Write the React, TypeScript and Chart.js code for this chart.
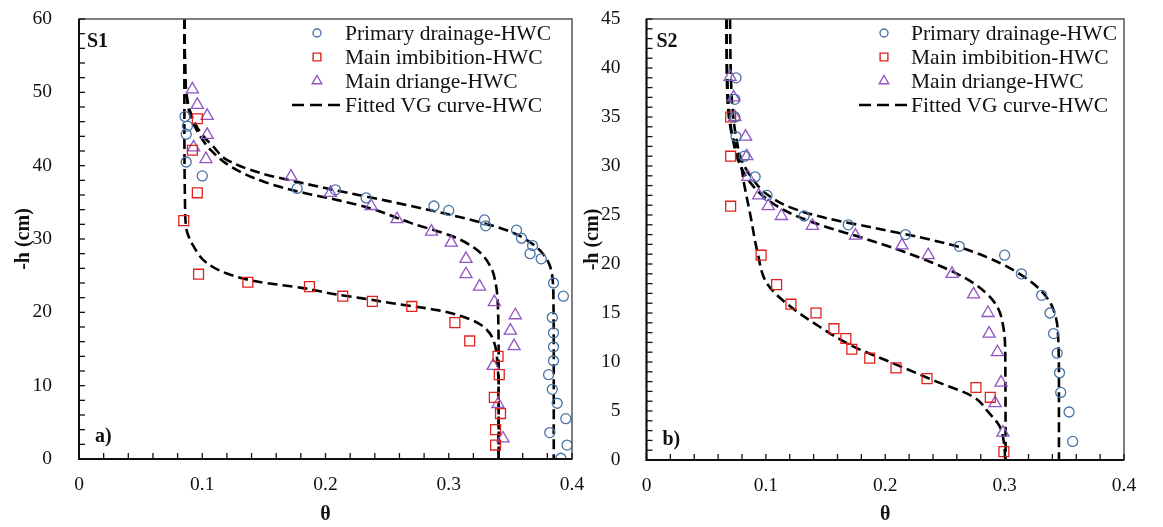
import React, { useEffect, useRef } from 'react';
import { Chart, registerables } from 'chart.js';
import { drawPoint } from 'chart.js/helpers';

Chart.register(...registerables);

type Pair = [number, number]; // [theta, h]

// ---------- Panel a (S1) ----------
const s1PrimaryDrainage: Pair[] = [
  [0.086, 46.7], [0.088, 45.4], [0.087, 44.3], [0.087, 40.5], [0.1, 38.6], [0.177, 36.9],
  [0.208, 36.7], [0.233, 35.6], [0.288, 34.5], [0.3, 33.9], [0.329, 32.6], [0.33, 31.8],
  [0.355, 31.2], [0.359, 30.1], [0.368, 29.1], [0.366, 28.0], [0.375, 27.3], [0.385, 24.0],
  [0.393, 22.2], [0.384, 19.3], [0.385, 17.2], [0.385, 15.3], [0.385, 13.4], [0.381, 11.5],
  [0.384, 9.5], [0.388, 7.6], [0.395, 5.5], [0.382, 3.6], [0.396, 1.9], [0.391, 0.1],
];
const s1MainImbibition: Pair[] = [
  [0.096, 46.4], [0.092, 42.1], [0.096, 36.3], [0.085, 32.5], [0.097, 25.2], [0.137, 24.1],
  [0.187, 23.5], [0.214, 22.2], [0.238, 21.5], [0.27, 20.8], [0.305, 18.6], [0.317, 16.1],
  [0.34, 14.0], [0.341, 11.5], [0.337, 8.4], [0.342, 6.2], [0.338, 4.0], [0.338, 1.9],
];
const s1MainDrainage: Pair[] = [
  [0.092, 50.4], [0.096, 48.3], [0.104, 46.8], [0.104, 44.2], [0.093, 42.5], [0.103, 40.9],
  [0.172, 38.5], [0.204, 36.3], [0.237, 34.5], [0.258, 32.7], [0.286, 31.0], [0.302, 29.5],
  [0.314, 27.3], [0.314, 25.2], [0.325, 23.5], [0.337, 21.4], [0.354, 19.6], [0.35, 17.5],
  [0.353, 15.4], [0.336, 12.7], [0.34, 7.5], [0.344, 2.8],
];
const s1FitPrimaryDrainage: Pair[] = [
  [0.0855, 60], [0.086, 54], [0.087, 50], [0.09, 47.5], [0.095, 45.5], [0.1, 44.2], [0.109, 42.6],
  [0.12, 40.8], [0.147, 39.0], [0.182, 37.6], [0.218, 36.3], [0.25, 35.2], [0.283, 34.0],
  [0.323, 32.4], [0.35, 31.0], [0.369, 29.2], [0.38, 27.1], [0.384, 24.9], [0.385, 21.0],
  [0.3852, 12], [0.3852, 0],
];
const s1FitMainDrainage: Pair[] = [
  [0.0855, 60], [0.086, 54], [0.087, 50], [0.09, 47], [0.095, 45], [0.1, 43.6], [0.1065, 42.2],
  [0.123, 39.9], [0.15, 37.8], [0.182, 36.3], [0.21, 35.3], [0.236, 34.2], [0.269, 32.2],
  [0.304, 30.3], [0.323, 28.5], [0.334, 26.2], [0.338, 24.0], [0.34, 20.3], [0.3405, 12],
  [0.3405, 0],
];
const s1FitMainImbibition: Pair[] = [
  [0.0855, 60], [0.0855, 45], [0.086, 35], [0.087, 31.5], [0.093, 29.0], [0.104, 26.7],
  [0.12, 25.3], [0.1445, 24.2], [0.182, 23.3], [0.21, 22.4], [0.23, 21.9], [0.2555, 21.2],
  [0.291, 20.3], [0.318, 19.0], [0.331, 17.6], [0.337, 15.8], [0.3395, 13], [0.3405, 8],
  [0.3405, 0],
];

// ---------- Panel b (S2) ----------
const s2PrimaryDrainage: Pair[] = [
  [0.075, 39], [0.074, 36.8], [0.074, 35], [0.075, 33], [0.082, 31], [0.091, 28.9], [0.101, 27],
  [0.132, 24.9], [0.169, 24], [0.217, 23], [0.262, 21.8], [0.3, 20.9], [0.314, 19], [0.331, 16.8],
  [0.338, 15], [0.341, 12.9], [0.344, 10.9], [0.346, 8.9], [0.347, 6.9], [0.354, 4.9], [0.357, 1.9],
];
const s2MainImbibition: Pair[] = [
  [0.0705, 35], [0.0705, 31], [0.0705, 25.9], [0.096, 20.9], [0.109, 17.9], [0.121, 15.9],
  [0.142, 15], [0.157, 13.4], [0.167, 12.4], [0.172, 11.3], [0.187, 10.4], [0.209, 9.4],
  [0.235, 8.3], [0.276, 7.4], [0.288, 6.4], [0.2994, 0.85],
];
const s2MainDrainage: Pair[] = [
  [0.07, 39.1], [0.073, 37], [0.074, 35], [0.083, 33], [0.084, 31], [0.085, 28.9], [0.094, 27],
  [0.102, 25.9], [0.113, 24.9], [0.139, 23.9], [0.175, 22.9], [0.214, 21.9], [0.236, 20.9],
  [0.256, 19], [0.274, 16.9], [0.286, 15], [0.287, 12.9], [0.294, 11], [0.297, 7.9], [0.292, 5.8],
  [0.2986, 2.8],
];
const s2FitPrimaryDrainage: Pair[] = [
  [0.07, 45], [0.0705, 40], [0.072, 36], [0.075, 33], [0.08, 30.5], [0.09, 28.5], [0.1, 27.2],
  [0.12, 25.8], [0.15, 24.7], [0.19, 23.7], [0.23, 22.7], [0.26, 21.8], [0.285, 20.7],
  [0.307, 19.4], [0.325, 17.9], [0.337, 16.3], [0.343, 14.5], [0.345, 12], [0.3455, 8], [0.3455, 0],
];
const s2FitMainDrainage: Pair[] = [
  [0.067, 45], [0.0675, 40], [0.069, 36], [0.072, 33], [0.077, 30.5], [0.087, 28.3], [0.1, 26.7],
  [0.12, 25.2], [0.15, 23.8], [0.18, 22.7], [0.21, 21.5], [0.24, 20.1], [0.265, 18.7],
  [0.283, 17.2], [0.294, 15.6], [0.299, 13.5], [0.3005, 11], [0.3008, 0],
];
const s2FitMainImbibition: Pair[] = [
  [0.067, 45], [0.0675, 38], [0.069, 35], [0.072, 33], [0.0777, 31], [0.082, 28], [0.087, 25],
  [0.093, 21.2], [0.101, 18], [0.117, 16], [0.145, 13.6], [0.173, 11.6], [0.206, 9.9],
  [0.243, 8.0], [0.273, 6.5], [0.287, 4.8], [0.296, 3.4], [0.2995, 1.7], [0.3005, 0],
];

// ---------- Labels / ticks ----------
const seriesLabels = ['Primary drainage-HWC', 'Main imbibition-HWC', 'Main driange-HWC', 'Fitted VG curve-HWC'];
const thetaTickLabels = [0, 0.1, 0.2, 0.3, 0.4];
const hTickLabelsS1 = [0, 10, 20, 30, 40, 50, 60];
const hTickLabelsS2 = [0, 5, 10, 15, 20, 25, 30, 35, 40, 45];

const SERIF = "'Liberation Serif', 'Times New Roman', serif";
const C_CIRCLE = '#4a72a6';
const C_SQUARE = '#e0221e';
const C_TRI = '#9055c4';

const toXY = (arr: Pair[]) => arr.map(([x, y]) => ({ x, y }));

const pointDs = (label: string, data: Pair[], style: string, radius: number, color: string) => ({
  label,
  data: toXY(data),
  showLine: false,
  pointStyle: style,
  pointRadius: radius,
  pointBorderColor: color,
  pointBackgroundColor: 'rgba(0,0,0,0)',
  pointBorderWidth: 1.3,
  borderColor: color,
  order: 1,
});

const fitDs = (data: Pair[]) => ({
  label: seriesLabels[3],
  data: toXY(data),
  showLine: true,
  indexAxis: 'y',
  cubicInterpolationMode: 'monotone',
  borderColor: '#000',
  borderWidth: 2.6,
  borderDash: [10, 5],
  pointRadius: 0,
  fill: false,
  order: 2,
});

const decorPlugin = {
  id: 'decor',
  afterDraw(chart: any, _args: any, opts: any) {
    const ctx = chart.ctx as CanvasRenderingContext2D;
    const { left, right, top, bottom } = chart.chartArea;
    ctx.save();
    // frame
    ctx.setLineDash([]);
    ctx.strokeStyle = '#555';
    ctx.lineWidth = 1.5;
    ctx.strokeRect(left, top, right - left, bottom - top);
    ctx.strokeStyle = '#111';
    ctx.lineWidth = 2;
    ctx.beginPath();
    ctx.moveTo(left, top);
    ctx.lineTo(left, bottom);
    ctx.lineTo(right, bottom);
    ctx.stroke();
    // inward tick marks
    ctx.lineWidth = 1.3;
    const xs = chart.scales.x;
    const ys = chart.scales.y;
    ys.ticks.forEach((t: any) => {
      const p = ys.getPixelForValue(t.value);
      ctx.beginPath();
      ctx.moveTo(left, p);
      ctx.lineTo(left + 6, p);
      ctx.stroke();
    });
    xs.ticks.forEach((t: any) => {
      const p = xs.getPixelForValue(t.value);
      ctx.beginPath();
      ctx.moveTo(p, bottom);
      ctx.lineTo(p, bottom - 6);
      ctx.stroke();
    });
    // panel tags
    ctx.fillStyle = '#111';
    ctx.font = `bold 20px ${SERIF}`;
    ctx.textBaseline = 'middle';
    ctx.textAlign = 'left';
    ctx.fillText(opts.tag, left + opts.tagDx, top + 23);
    ctx.fillText(opts.sub, left + opts.subDx, bottom - opts.subDy);
    // legend
    const seen: string[] = [];
    const items: any[] = [];
    chart.data.datasets.forEach((ds: any) => {
      if (!seen.includes(ds.label)) {
        seen.push(ds.label);
        items.push(ds);
      }
    });
    ctx.font = `21.5px ${SERIF}`;
    items.forEach((ds: any, i: number) => {
      const y = opts.rowY[i];
      if (ds.showLine === false) {
        ctx.strokeStyle = ds.pointBorderColor;
        ctx.fillStyle = 'rgba(0,0,0,0)';
        ctx.lineWidth = 1.4;
        ctx.setLineDash([]);
        const r = ds.pointStyle === 'circle' ? 4 : 5.5;
        drawPoint(ctx, { pointStyle: ds.pointStyle, radius: r, rotation: 0, borderWidth: 1.4 } as any, opts.markerX, y);
      } else {
        ctx.strokeStyle = '#000';
        ctx.lineWidth = 2.6;
        ctx.setLineDash([12, 6]);
        ctx.beginPath();
        ctx.moveTo(opts.markerX - 25, y);
        ctx.lineTo(opts.markerX + 23, y);
        ctx.stroke();
        ctx.setLineDash([]);
      }
      ctx.fillStyle = '#111';
      ctx.fillText(ds.label, opts.textX, y + 1);
    });
    ctx.restore();
  },
};

function makeConfig(p: {
  pd: Pair[]; mi: Pair[]; md: Pair[]; fits: Pair[][];
  hMax: number; hStep: number; hLabels: number[];
  yWidth: number; xHeight: number; padRight: number; padTop: number;
  yTitlePad: number; tickPad: number; decor: any;
}) {
  return {
    type: 'line',
    data: {
      datasets: [
        pointDs(seriesLabels[0], p.pd, 'circle', 5, C_CIRCLE),
        pointDs(seriesLabels[1], p.mi, 'rect', 7, C_SQUARE),
        pointDs(seriesLabels[2], p.md, 'triangle', 7, C_TRI),
        ...p.fits.map(fitDs),
      ],
    },
    options: {
      responsive: false,
      animation: false,
      events: [],
      layout: { padding: { top: p.padTop, right: p.padRight, left: 0, bottom: 0 } },
      scales: {
        x: {
          type: 'linear',
          min: 0,
          max: 0.4,
          grid: { display: false },
          border: { display: false },
          ticks: {
            stepSize: 0.02,
            autoSkip: false,
            maxRotation: 0,
            padding: 6,
            color: '#111',
            font: { family: SERIF, size: 19.5 },
            callback: (v: number) => {
              const r = Math.round(v * 100) / 100;
              return thetaTickLabels.includes(r) ? String(r) : '';
            },
          },
          title: {
            display: true,
            text: 'θ',
            color: '#111',
            font: { family: SERIF, size: 20, weight: 'bold' },
            padding: { top: 0, bottom: 0 },
          },
          afterFit: (s: any) => { s.height = p.xHeight; },
        },
        y: {
          type: 'linear',
          min: 0,
          max: p.hMax,
          grid: { display: false },
          border: { display: false },
          ticks: {
            stepSize: p.hStep,
            autoSkip: false,
            padding: p.tickPad,
            color: '#111',
            font: { family: SERIF, size: 19.5 },
            callback: (v: number) => (p.hLabels.includes(Math.round(v)) && Math.abs(v - Math.round(v)) < 1e-6 ? String(Math.round(v)) : ''),
          },
          title: {
            display: true,
            text: '-h (cm)',
            color: '#111',
            font: { family: SERIF, size: 20, weight: 'bold' },
            padding: { top: p.yTitlePad, bottom: 0 },
          },
          afterFit: (s: any) => {
            s.width = p.yWidth;
            s.paddingTop = 0;
            s.paddingBottom = 0;
          },
        },
      },
      plugins: {
        legend: { display: false },
        tooltip: { enabled: false },
        decor: p.decor,
      },
    },
    plugins: [decorPlugin],
  };
}

export default function App() {
  const refA = useRef<HTMLCanvasElement>(null);
  const refB = useRef<HTMLCanvasElement>(null);

  useEffect(() => {
    const a = new Chart(refA.current as HTMLCanvasElement, makeConfig({
      pd: s1PrimaryDrainage, mi: s1MainImbibition, md: s1MainDrainage,
      fits: [s1FitPrimaryDrainage, s1FitMainDrainage, s1FitMainImbibition],
      hMax: 60, hStep: 2, hLabels: hTickLabelsS1,
      yWidth: 79, xHeight: 68, padRight: 28, padTop: 19, yTitlePad: 12, tickPad: 19,
      decor: { tag: 'S1', sub: 'a)', tagDx: 8, subDx: 16, subDy: 22, markerX: 317, textX: 345, rowY: [33, 57, 81, 105] },
    }) as any);
    const b = new Chart(refB.current as HTMLCanvasElement, makeConfig({
      pd: s2PrimaryDrainage, mi: s2MainImbibition, md: s2MainDrainage,
      fits: [s2FitPrimaryDrainage, s2FitMainDrainage, s2FitMainImbibition],
      hMax: 45, hStep: 1, hLabels: hTickLabelsS2,
      yWidth: 66.5, xHeight: 67, padRight: 39, padTop: 19, yTitlePad: 1, tickPad: 18,
      decor: { tag: 'S2', sub: 'b)', tagDx: 10, subDx: 16, subDy: 20, markerX: 884 - 580, textX: 911 - 580, rowY: [33, 57, 81, 105] },
    }) as any);
    return () => { a.destroy(); b.destroy(); };
  }, []);

  return (
    <div style={{ position: 'absolute', left: 0, top: 0, width: 1163, height: 527, background: '#fff' }}>
      <canvas ref={refA} width={600} height={527} style={{ position: 'absolute', left: 0, top: 0 }} />
      <canvas ref={refB} width={583} height={527} style={{ position: 'absolute', left: 580, top: 0 }} />
    </div>
  );
}
